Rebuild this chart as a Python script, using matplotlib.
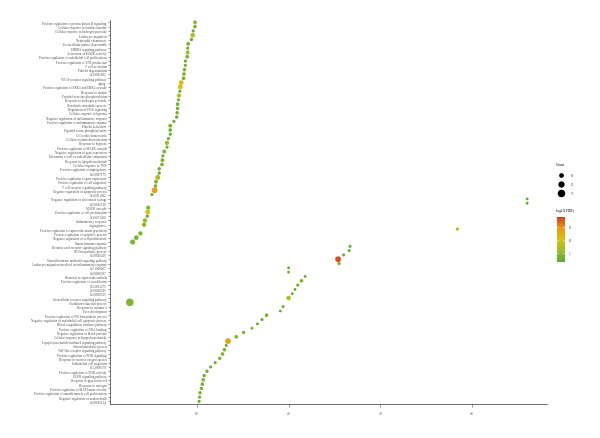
import matplotlib.pyplot as plt
from matplotlib.colors import LinearSegmentedColormap
from matplotlib.lines import Line2D

plt.rcParams['font.family'] = ['Liberation Serif', 'DejaVu Serif']

terms = [
    "Positive regulation of protein kinase B signaling",
    "Cellular response to insulin stimulus",
    "Cellular response to hydrogen peroxide",
    "Leukocyte migration",
    "Neutrophil chemotaxis",
    "Extracellular matrix disassembly",
    "ERBB2 signaling pathway",
    "Activation of MAPK activity",
    "Positive regulation of endothelial cell proliferation",
    "Positive regulation of TNF production",
    "T cell activation",
    "Platelet degranulation",
    "GO:0045893",
    "VEGF receptor signaling pathway",
    "Aging",
    "Positive regulation of ERK1 and ERK2 cascade",
    "Response to insulin",
    "Peptidyl-tyrosine phosphorylation",
    "Response to hydrogen peroxide",
    "Xenobiotic metabolic process",
    "Regulation of PI3K signaling",
    "Cellular response to hypoxia",
    "Negative regulation of inflammatory response",
    "Positive regulation of inflammatory response",
    "Platelet activation",
    "Peptidyl-serine phosphorylation",
    "Cell redox homeostasis",
    "Cellular oxidant detoxification",
    "Response to hypoxia",
    "Positive regulation of MAPK cascade",
    "Negative regulation of gene expression",
    "Movement of cell or subcellular component",
    "Response to lipopolysaccharide",
    "Cellular response to TNF",
    "Positive regulation of angiogenesis",
    "GO:0007179",
    "Positive regulation of gene expression",
    "Positive regulation of cell migration",
    "T cell receptor signaling pathway",
    "Negative regulation of apoptotic process",
    "GO:0051092",
    "Negative regulation of cholesterol storage",
    "GO:0042730",
    "MAPK cascade",
    "Positive regulation of cell proliferation",
    "GO:0071260",
    "Inflammatory response",
    "Angiogenesis",
    "Positive regulation of superoxide anion generation",
    "Positive regulation of apoptotic process",
    "Negative regulation of cell proliferation",
    "Innate immune response",
    "Retinoic acid receptor signaling pathway",
    "NO biosynthetic process",
    "GO:0045429",
    "Steroid hormone mediated signaling pathway",
    "Leukocyte migration involved in inflammatory response",
    "GO:1900407",
    "GO:0060397",
    "Removal of superoxide radicals",
    "Positive regulation of vasodilation",
    "GO:2001275",
    "GO:0010745",
    "GO:0060325",
    "Intracellular receptor signaling pathway",
    "Oxidation-reduction process",
    "Response to vitamin A",
    "Face development",
    "Positive regulation of NO biosynthetic process",
    "Negative regulation of endothelial cell apoptotic process",
    "Blood coagulation, intrinsic pathway",
    "Positive regulation of DNA binding",
    "Negative regulation of blood pressure",
    "Cellular response to lipopolysaccharide",
    "Lipopolysaccharide-mediated signaling pathway",
    "Steroid metabolic process",
    "Toll-like receptor signaling pathway",
    "Positive regulation of PI3K signaling",
    "Response to reactive oxygen species",
    "Endothelial cell migration",
    "GO:2000379",
    "Positive regulation of PI3K activity",
    "EGFR signaling pathway",
    "Response to glucocorticoid",
    "Response to estrogen",
    "Positive regulation of MAP kinase activity",
    "Positive regulation of smooth muscle cell proliferation",
    "Negative regulation of neuron death",
    "GO:0043124",
]

enrichment = [
    9.8, 9.8, 9.6, 9.55, 9.4, 9.05, 9.0, 9.0, 8.95, 8.75,
    8.75, 8.65, 8.6, 8.55, 8.3, 8.2, 8.15, 8.05, 8.0, 7.9,
    7.9, 7.85, 7.8, 7.5, 7.1, 7.1, 7.1, 6.9, 6.75, 6.75,
    6.45, 6.3, 6.25, 6.2, 5.9, 5.9, 5.75, 5.55, 5.5, 5.4,
    5.1, 46.0, 46.0, 4.7, 4.65, 4.6, 4.35, 4.25, 38.4, 3.85,
    3.4, 3.0, 26.7, 26.6, 26.0, 25.4, 25.5, 20.0, 20.0, 21.8,
    21.4, 21.0, 20.7, 20.4, 20.0, 2.7, 19.4, 19.1, 17.6, 17.1,
    16.6, 16.0, 15.1, 14.3, 13.4, 13.2, 13.0, 12.8, 12.5, 12.0,
    11.5, 11.1, 10.8, 10.7, 10.6, 10.5, 10.35, 10.3, 10.25,
]

counts = [
    6, 5, 3, 10, 4, 5, 3, 6, 5, 3,
    3, 5, 5, 5, 10, 11, 3, 7, 3, 5,
    4, 4, 4, 3, 6, 5, 3, 3, 8, 3,
    6, 3, 6, 5, 4, 4, 11, 6, 4, 17,
    3, 2, 2, 7, 12, 4, 9, 7, 3, 8,
    10, 12, 3, 3, 3, 17, 3, 2, 2, 2,
    5, 3, 2, 2, 9, 31, 3, 2, 5, 3,
    2, 2, 4, 5, 16, 3, 5, 5, 4, 3,
    3, 4, 4, 5, 5, 4, 4, 3, 3,
]

neglog_fdr = [
    5, 4, 3, 8, 3, 3, 2.5, 5.5, 3.5, 2.5,
    2.5, 4, 4, 3.5, 9, 10, 3, 7, 3, 3,
    3, 3, 3, 2.5, 4, 3.5, 2.5, 2.5, 6.5, 3,
    4, 3, 4, 3.5, 3, 3, 7, 4, 3, 14,
    3, 2.5, 2.5, 4, 10, 3, 6, 4, 7, 4,
    4, 4, 3, 3, 3, 18, 3, 2.5, 2.5, 2.5,
    4, 3, 2.5, 2.5, 7, 4, 3, 2.5, 4, 3,
    2.5, 2.5, 3.5, 4, 14, 3, 4, 4, 3.5, 3,
    3, 3.5, 3.5, 4, 4, 3.5, 3.5, 3, 3,
]

legend_counts = [10, 20, 30]
cbar_ticks = [5, 10, 15]


def size_of(c):
    return 0.9 * c + 2.5


cmap = LinearSegmentedColormap.from_list(
    "gyr", ["#5ba83a", "#9cbb2a", "#d6c214", "#e89a18", "#d2401c"])
vmin, vmax = 1.5, 18.8

fig = plt.figure(figsize=(6, 4.39), dpi=100)
ax = fig.add_axes([110 / 600, 1 - 405 / 439, 437 / 600, 384.3 / 439])

n = len(terms)
ypos = [n - 1 - i for i in range(n)]
sc = ax.scatter(enrichment, ypos, s=[size_of(c) for c in counts], c=neglog_fdr,
                cmap=cmap, vmin=vmin, vmax=vmax, linewidths=0, zorder=3)

ax.set_ylim(-0.6, n - 0.4)
xmin, xmax = min(enrichment), max(enrichment)
pad = 0.05 * (xmax - xmin)
ax.set_xlim(xmin - pad, xmax + pad)
ax.set_yticks(ypos)
ax.set_yticklabels(terms, fontsize=2.3, color='#4d4d4d')
ax.set_xticks([10, 20, 30, 40])
ax.tick_params(axis='x', labelsize=2.5, colors='#4d4d4d', length=1.8, width=0.4)
ax.tick_params(axis='y', length=1.4, width=0.4, colors='#4d4d4d', pad=1)
for side in ['top', 'right']:
    ax.spines[side].set_visible(False)
for side in ['left', 'bottom']:
    ax.spines[side].set_linewidth(0.6)
    ax.spines[side].set_color('#555555')

# size legend
fig.text(556 / 600, 1 - 165 / 439, "Count", fontsize=2.6, va='center')
for i, c in enumerate(legend_counts):
    yy = 1 - (175.7 + 9 * i) / 439
    fig.add_artist(Line2D([560.7 / 600], [yy], marker='o', linestyle='none',
                          markersize=size_of(c) ** 0.5, color='black',
                          markeredgewidth=0))
    fig.text(571 / 600, yy, str(c), fontsize=2.3, va='center', color='#4d4d4d')

# colour legend
fig.text(556 / 600, 1 - 211 / 439, "-log10(FDR)", fontsize=2.6, va='center')
cax = fig.add_axes([556.7 / 600, 1 - 263 / 439, 8.3 / 600, 45 / 439])
cb = fig.colorbar(sc, cax=cax, ticks=cbar_ticks)
cb.outline.set_visible(False)
cax.tick_params(labelsize=2.3, length=0, colors='#4d4d4d', pad=3)
for t in cbar_ticks:
    cax.axhline(t, xmin=0, xmax=0.2, color='white', lw=0.4)
    cax.axhline(t, xmin=0.8, xmax=1, color='white', lw=0.4)

fig.savefig("out.png", dpi=100)
